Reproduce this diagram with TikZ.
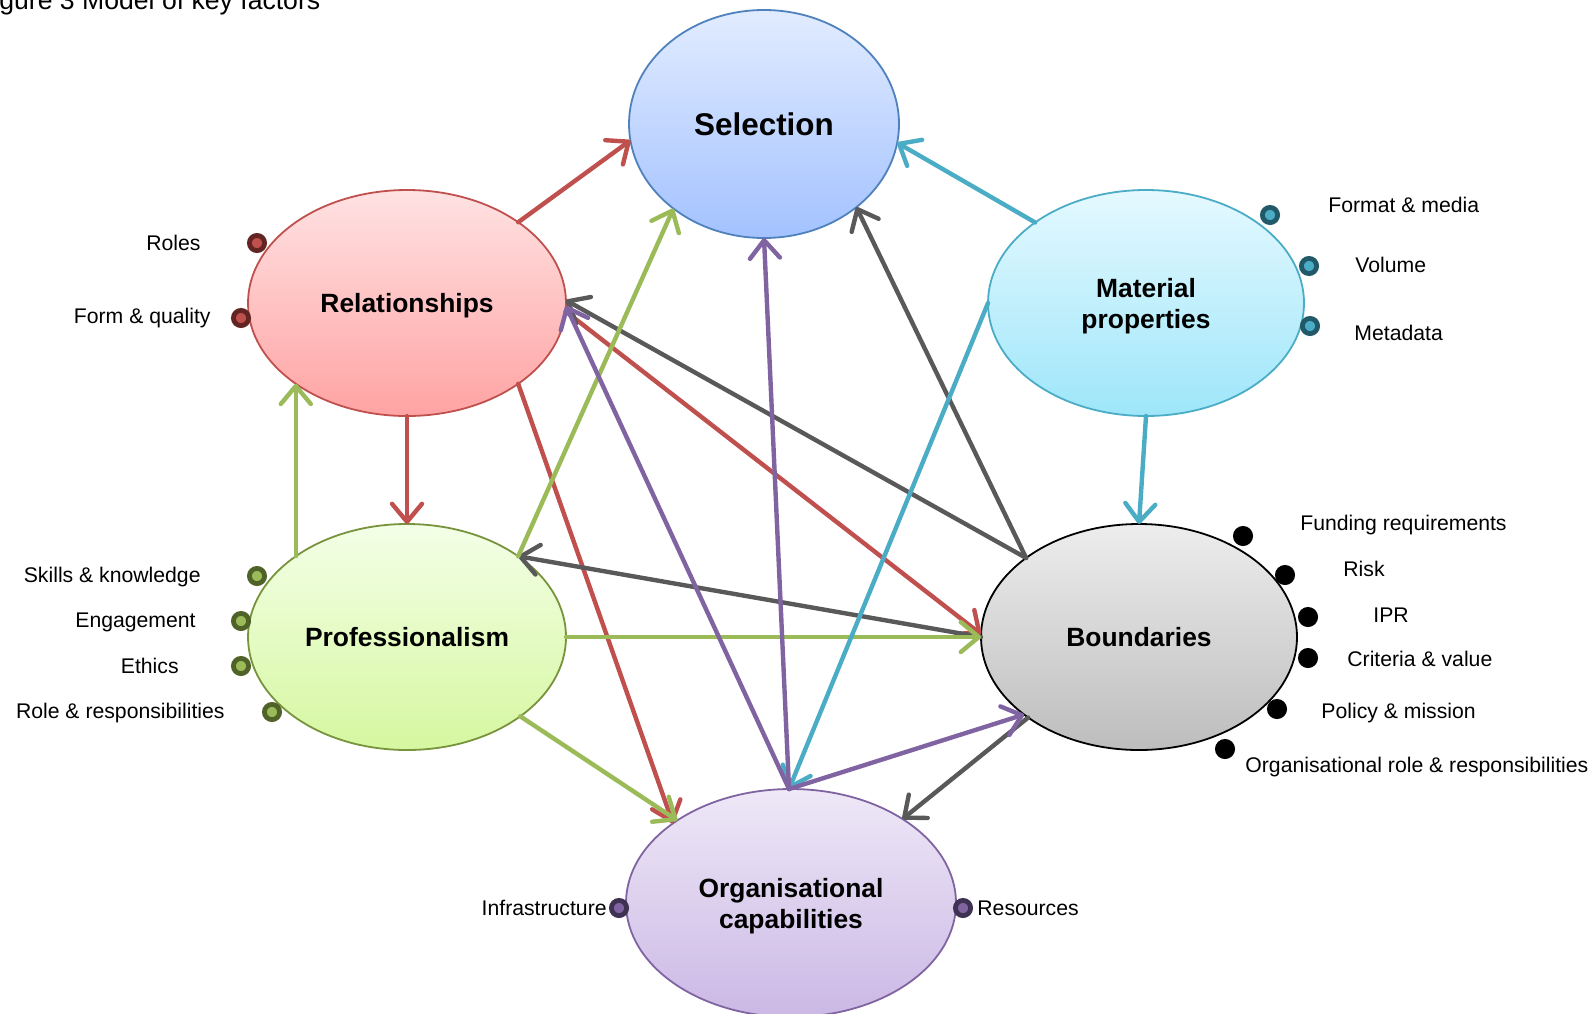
\documentclass[tikz,border=0pt]{standalone}
\usepackage{fontspec}
\setmainfont{Liberation Sans}
\usetikzlibrary{shapes.geometric,arrows.meta}
\definecolor{cred}{HTML}{C0504D}
\definecolor{cgreen}{HTML}{9BBB59}
\definecolor{cteal}{HTML}{4BACC6}
\definecolor{cpurple}{HTML}{8064A2}
\definecolor{cgrey}{HTML}{595959}
\definecolor{cblue}{HTML}{4F81BD}
\definecolor{colive}{HTML}{77933C}
\definecolor{rred}{HTML}{632523}
\definecolor{rteal}{HTML}{215968}
\definecolor{rgreen}{HTML}{4F6228}
\definecolor{rpurple}{HTML}{3F3151}
\begin{document}
\begin{tikzpicture}[x=0.5pt,y=-0.5pt,
  factor/.style={ellipse, inner sep=0pt, outer sep=0pt, line width=0.9pt, align=center, text depth=0pt,
    font=\fontsize{13.2}{15.5}\selectfont\bfseries},
  link/.style={line width=2.2pt, line cap=round, -{Straight Barb[length=9pt,width=15pt,round]}},
  lab/.style={font=\fontsize{10.6}{12}\selectfont, inner sep=0pt},
  dot/.style={circle, inner sep=0pt, minimum size=7.6pt, line width=2.4pt},
]
\useasboundingbox (0,0) rectangle (1593,1013);
\clip (0,0) rectangle (1593,1013);

\node[anchor=base west, font=\fontsize{13.3}{16}\selectfont, inner sep=0pt] (title) at (-1,9.5) {gure 3 Model of key factors};

% factor ellipses
\node[factor, draw=cblue, top color={rgb,255:red,226;green,236;blue,255}, bottom color={rgb,255:red,163;green,194;blue,255},
  minimum width=135pt, minimum height=114pt, font=\fontsize{15.7}{18}\selectfont\bfseries] (sel) at (764,124) {Selection};
\node[factor, draw=cred, top color={rgb,255:red,255;green,226;blue,227}, bottom color={rgb,255:red,255;green,163;blue,163},
  minimum width=159pt, minimum height=113pt] (rel) at (407,303) {Relationships};
\node[factor, draw=cteal, top color={rgb,255:red,229;green,249;blue,255}, bottom color={rgb,255:red,158;green,230;blue,250},
  minimum width=158pt, minimum height=113pt] (mat) at (1146,303) {Material\\properties};
\node[factor, draw=colive, top color={rgb,255:red,243;green,255;blue,231}, bottom color={rgb,255:red,214;green,247;blue,160},
  minimum width=159pt, minimum height=113pt] (pro) at (407,637) {Professionalism};
\node[factor, draw=black, top color={rgb,255:red,237;green,237;blue,237}, bottom color={rgb,255:red,189;green,189;blue,189},
  minimum width=158pt, minimum height=113pt] (bnd) at (1139,637) {Boundaries};
\node[factor, draw=cpurple, top color={rgb,255:red,238;green,232;blue,247}, bottom color={rgb,255:red,203;green,184;blue,229},
  minimum width=165pt, minimum height=114pt] (org) at (791,903) {Organisational\\capabilities};

% connectors
\draw[link, cred] (rel.36) -- (sel.187);
\draw[link, cred] (rel.south) -- (pro.north);
\draw[link, cred] (rel.-36) -- (org.146);
\draw[link, cred] (rel.-3) -- (bnd.179);
\draw[link, cgrey] (bnd.145) -- (rel.1);
\draw[link, cgrey] (bnd.145) -- (sel.-42);
\draw[link, cgrey] (bnd.180) -- (pro.36);
\draw[link, cgrey] (bnd.216) -- (org.37);
\draw[link, cgreen] (pro.144) -- (rel.-144);
\draw[link, cgreen] (pro.36) -- (sel.223);
\draw[link, cgreen] (pro.0) -- (bnd.180);
\draw[link, cgreen] (pro.-35) -- (org.144);
\draw[link, cteal] (mat.144) -- (sel.-8);
\draw[link, cteal] (mat.south) -- (bnd.north);
\draw[link, cteal] (mat.180) -- (org.91);
\draw[link, cpurple] (org.91) -- (sel.south);
\draw[link, cpurple] (org.91) -- (rel.-1);
\draw[link, cpurple] (org.91) -- (bnd.214);

% Relationships factors
\node[dot, draw=rred, fill=cred] (d1) at (257,243) {};
\node[lab, anchor=east] (l1) at (201,243) {Roles};
\node[dot, draw=rred, fill=cred] (d2) at (241,318) {};
\node[lab, anchor=east] (l2) at (211,318) {Form \& quality};

% Material factors
\node[dot, draw=rteal, fill=cteal] (d3) at (1270,215) {};
\node[lab, anchor=west] (l3) at (1328,205) {Format \& media};
\node[dot, draw=rteal, fill=cteal] (d4) at (1309,266) {};
\node[lab, anchor=west] (l4) at (1355,265) {Volume};
\node[dot, draw=rteal, fill=cteal] (d5) at (1310,326) {};
\node[lab, anchor=west] (l5) at (1354,333) {Metadata};

% Boundaries factors
\node[dot, draw=black, fill=black] (d6) at (1243,536) {};
\node[lab, anchor=west] (l6) at (1300,525) {Funding requirements};
\node[dot, draw=black, fill=black] (d7) at (1285,575) {};
\node[lab, anchor=west] (l7) at (1343,569) {Risk};
\node[dot, draw=black, fill=black] (d8) at (1308,617) {};
\node[lab, anchor=west] (l8) at (1373,615) {IPR};
\node[dot, draw=black, fill=black] (d9) at (1308,658) {};
\node[lab, anchor=west] (l9) at (1347,659) {Criteria \& value};
\node[dot, draw=black, fill=black] (d10) at (1277,709) {};
\node[lab, anchor=west] (l10) at (1321,713) {Policy \& mission};
\node[dot, draw=black, fill=black] (d11) at (1225,749) {};
\node[lab, anchor=west] (l11) at (1245,767) {Organisational role \& responsibilities};

% Professionalism factors
\node[dot, draw=rgreen, fill=cgreen] (d12) at (257,576) {};
\node[lab, anchor=east] (l12) at (201,577) {Skills \& knowledge};
\node[dot, draw=rgreen, fill=cgreen] (d13) at (241,621) {};
\node[lab, anchor=east] (l13) at (196,622) {Engagement};
\node[dot, draw=rgreen, fill=cgreen] (d14) at (241,666) {};
\node[lab, anchor=east] (l14) at (179,666) {Ethics};
\node[dot, draw=rgreen, fill=cgreen] (d15) at (272,712) {};
\node[lab, anchor=east] (l15) at (225,713) {Role \& responsibilities};

% Organisational capabilities factors
\node[dot, draw=rpurple, fill=cpurple] (d16) at (619,908) {};
\node[lab, anchor=east] (l16) at (607,908) {Infrastructure};
\node[dot, draw=rpurple, fill=cpurple] (d17) at (963,908) {};
\node[lab, anchor=west] (l17) at (977,908) {Resources};
\end{tikzpicture}
\end{document}
